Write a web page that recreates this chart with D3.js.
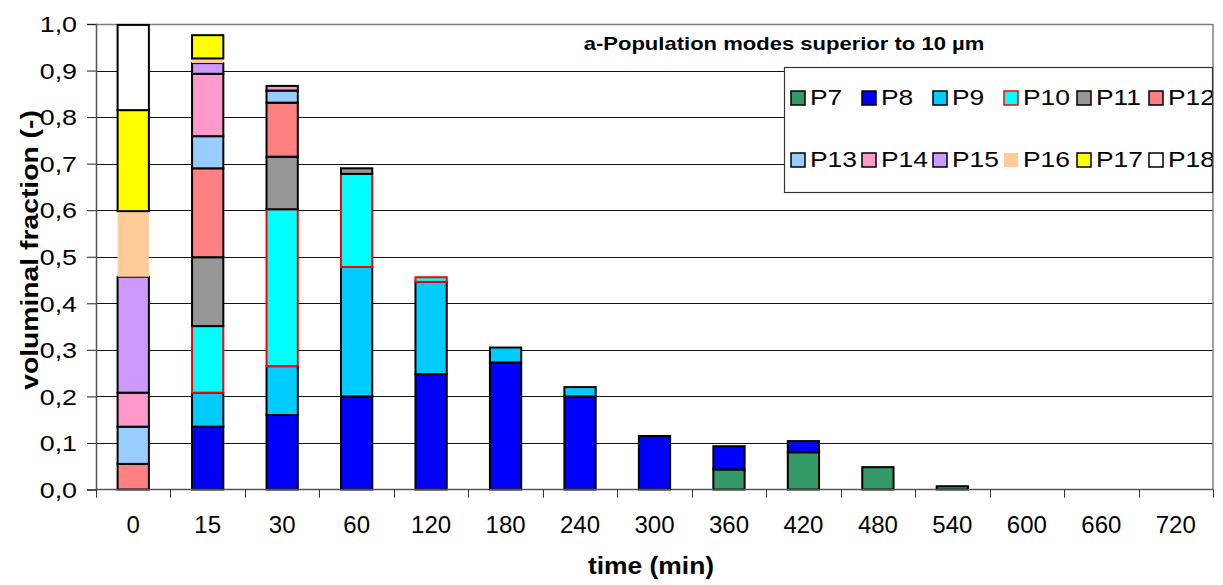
<!DOCTYPE html>
<html>
<head>
<meta charset="utf-8">
<script src="https://cdn.jsdelivr.net/npm/d3@7/dist/d3.min.js"></script>
<style>
  html, body { margin: 0; padding: 0; background: #fff; }
  svg { display: block; font-family: "Liberation Sans", Arial, sans-serif; }
</style>
</head>
<body>
<svg id="chart" width="1223" height="585"></svg>
<script>
// ---------- DATA ----------
const categories = ["0","15","30","60","120","180","240","300","360","420","480","540","600","660","720"];
const seriesNames = ["P7","P8","P9","P10","P11","P12","P13","P14","P15","P16","P17","P18"];
const P7  = [0,     0,     0,     0,     0,     0,     0,     0,     0.043, 0.080, 0.048, 0.007, 0, 0, 0];
const P8  = [0,     0.135, 0.160, 0.200, 0.248, 0.273, 0.200, 0.115, 0.050, 0.024, 0,     0,     0, 0, 0];
const P9  = [0,     0.073, 0.105, 0.278, 0.198, 0.032, 0.020, 0,     0,     0,     0,     0,     0, 0, 0];
const P10 = [0,     0.143, 0.337, 0.200, 0.010, 0,     0,     0,     0,     0,     0,     0,     0, 0, 0];
const P11 = [0,     0.148, 0.113, 0.012, 0,     0,     0,     0,     0,     0,     0,     0,     0, 0, 0];
const P12 = [0.055, 0.191, 0.116, 0,     0,     0,     0,     0,     0,     0,     0,     0,     0, 0, 0];
const P13 = [0.080, 0.069, 0.026, 0,     0,     0,     0,     0,     0,     0,     0,     0,     0, 0, 0];
const P14 = [0.073, 0.134, 0.010, 0,     0,     0,     0,     0,     0,     0,     0,     0,     0, 0, 0];
const P15 = [0.249, 0.023, 0,     0,     0,     0,     0,     0,     0,     0,     0,     0,     0, 0, 0];
const P16 = [0.141, 0.010, 0,     0,     0,     0,     0,     0,     0,     0,     0,     0,     0, 0, 0];
const P17 = [0.217, 0.050, 0,     0,     0,     0,     0,     0,     0,     0,     0,     0,     0, 0, 0];
const P18 = [0.183, 0,     0,     0,     0,     0,     0,     0,     0,     0,     0,     0,     0, 0, 0];
const yTicks = [0,0.1,0.2,0.3,0.4,0.5,0.6,0.7,0.8,0.9,1.0];
const titleText = "a-Population modes superior to 10 µm";
const xTitle = "time (min)";
const yTitle = "voluminal fraction (-)";

// ---------- STYLE ----------
const fills = {P7:"#339966",P8:"#0000FF",P9:"#00CCFF",P10:"#00FFFF",P11:"#969696",P12:"#FF8080",
               P13:"#99CCFF",P14:"#FF99CC",P15:"#CC99FF",P16:"#FFCC99",P17:"#FFFF00",P18:"#FFFFFF"};
const strokes = {P10:"#FF0000", P16:"none"};
const seriesValues = {P7,P8,P9,P10,P11,P12,P13,P14,P15,P16,P17,P18};

const table = categories.map((c,i) => {
  const row = {cat:c};
  seriesNames.forEach(s => row[s] = seriesValues[s][i]);
  return row;
});

const svg = d3.select("#chart");
const L = 96, R = 1213, T = 24, B = 489.5;

const x = d3.scaleBand().domain(categories).range([L, R]).paddingInner(0.58).paddingOuter(0.29);
const y = d3.scaleLinear().domain([0, 1]).range([B, T]);

// gridlines
svg.append("g").selectAll("line").data(yTicks.filter(v => v > 0)).join("line")
  .attr("x1", L).attr("x2", R)
  .attr("y1", d => Math.round(y(d)) + 0.5).attr("y2", d => Math.round(y(d)) + 0.5)
  .attr("stroke", "#111").attr("stroke-width", 1);

// plot border top/right (gray)
svg.append("line").attr("x1", L).attr("x2", R).attr("y1", T + 0.5).attr("y2", T + 0.5)
  .attr("stroke", "#808080").attr("stroke-width", 1.5);
svg.append("line").attr("x1", R).attr("x2", R).attr("y1", T).attr("y2", B)
  .attr("stroke", "#808080").attr("stroke-width", 1.5);

// bars
const stack = d3.stack().keys(seriesNames);
const stacked = stack(table);
const gBars = svg.append("g");
stacked.forEach(layer => {
  const key = layer.key;
  gBars.append("g").selectAll("rect")
    .data(layer.filter(d => d[1] - d[0] > 0))
    .join("rect")
    .attr("x", d => x(d.data.cat))
    .attr("width", x.bandwidth())
    .attr("y", d => y(d[1]))
    .attr("height", d => y(d[0]) - y(d[1]))
    .attr("fill", fills[key])
    .attr("stroke", strokes[key] || "#000")
    .attr("stroke-width", 2);
});

// y axis
const commaFmt = d3.formatLocale({decimal: ",", thousands: ".", grouping: [3], currency: ["", ""]}).format(".1f");
const yAxis = svg.append("g").attr("transform", `translate(${L},0)`)
  .call(d3.axisLeft(y).tickValues(yTicks).tickFormat(commaFmt).tickSize(9).tickPadding(0));
yAxis.select(".domain").attr("stroke", "#555").attr("stroke-width", 1.5);
yAxis.selectAll(".tick line").attr("stroke", "#222");
const ySx = 1.22;
yAxis.selectAll(".tick text")
  .attr("font-size", 22).attr("fill", "#000")
  .attr("font-family", "'Liberation Sans', Arial, sans-serif")
  .attr("x", -19 / ySx).attr("dy", "0.35em")
  .attr("transform", `scale(${ySx},1)`);

// x axis
const xAxis = svg.append("g").attr("transform", `translate(0,${B})`)
  .call(d3.axisBottom(x).tickSize(0).tickPadding(26.5));
xAxis.select(".domain").remove();
xAxis.selectAll(".tick text")
  .attr("font-size", 24).attr("fill", "#000")
  .attr("font-family", "'Liberation Sans', Arial, sans-serif");
svg.append("line").attr("x1", L).attr("x2", R).attr("y1", B).attr("y2", B)
  .attr("stroke", "#555").attr("stroke-width", 1.5);
// boundary ticks
const step = x.step();
const bounds = categories.map(c => x(c) - (step - x.bandwidth()) / 2).concat([R]);
svg.append("g").selectAll("line").data(bounds).join("line")
  .attr("x1", d => Math.round(d) + 0.5).attr("x2", d => Math.round(d) + 0.5)
  .attr("y1", B).attr("y2", B + 8)
  .attr("stroke", "#333").attr("stroke-width", 1);

// titles
svg.append("text").attr("transform", "translate(784,50) scale(1.16,1)")
  .attr("text-anchor", "middle").attr("font-weight", "bold").attr("font-size", 19)
  .text(titleText);
svg.append("text").attr("transform", "translate(651,574) scale(1.1,1)")
  .attr("text-anchor", "middle").attr("font-weight", "bold").attr("font-size", 24)
  .text(xTitle);
svg.append("text").attr("transform", "translate(38,250) rotate(-90) scale(1.23,1)")
  .attr("text-anchor", "middle").attr("font-weight", "bold").attr("font-size", 23)
  .text(yTitle);

// legend
const lgX = 784, lgY = 67, lgW = 428, lgH = 125;
svg.append("defs").append("clipPath").attr("id", "lgclip")
  .append("rect").attr("x", lgX).attr("y", lgY).attr("width", lgW).attr("height", lgH);
const lg = svg.append("g");
lg.append("rect").attr("x", lgX + 0.5).attr("y", lgY + 0.5).attr("width", lgW).attr("height", lgH)
  .attr("fill", "#fff").attr("stroke", "#333").attr("stroke-width", 1.2);
const lgItems = lg.append("g").attr("clip-path", "url(#lgclip)");
const colX = [791, 862, 933, 1004, 1077, 1149];
const rowY = [91, 153];
seriesNames.forEach((s, i) => {
  const cx = colX[i % 6], ry = rowY[Math.floor(i / 6)];
  lgItems.append("rect").attr("x", cx).attr("y", ry).attr("width", 14).attr("height", 14)
    .attr("fill", fills[s]).attr("stroke", strokes[s] || "#000").attr("stroke-width", 1.5);
  lgItems.append("text").attr("transform", `translate(${cx + 19},${ry + 14}) scale(1.2,1)`)
    .attr("font-size", 22).attr("fill", "#000").text(s);
});
</script>
</body>
</html>
